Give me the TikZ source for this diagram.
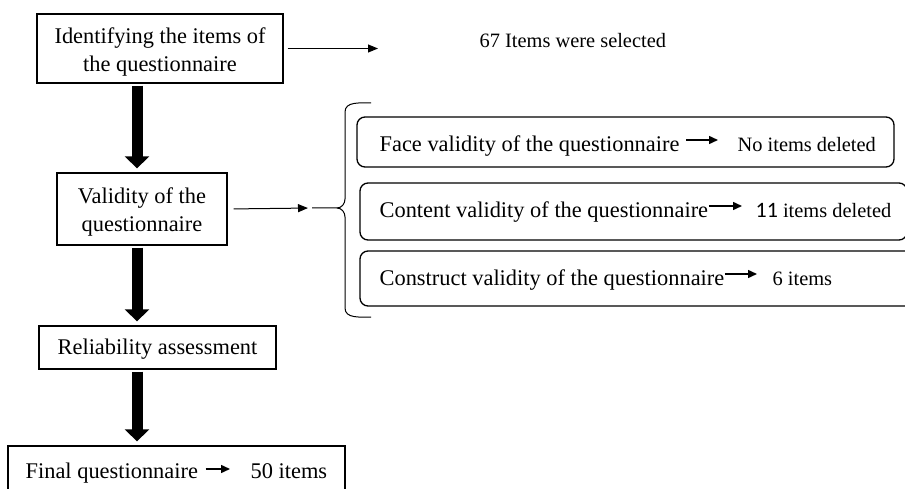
\documentclass[tikz,border=0pt]{standalone}
\usepackage{fontspec}
\setmainfont{Liberation Serif}
\newfontfamily\calfont{Carlito}
\usetikzlibrary{arrows.meta}

\begin{document}
\begin{tikzpicture}[x=1pt, y=-1pt, line width=1.3pt,
    box/.style={draw, inner sep=0pt},
    boxtxt/.style={align=center, inner sep=0pt, font=\fontsize{22.4}{28}\selectfont},
    roundbox/.style={draw, rounded corners=8pt, inner sep=0pt},
    txt/.style={anchor=base west, inner sep=0pt, font=\fontsize{22.4}{28}\selectfont},
    res/.style={anchor=base west, inner sep=0pt, font=\fontsize{20.4}{24}\selectfont},
    bigarrow/.style={line width=11pt, -{Triangle[width=24pt, length=12pt]}, shorten <=2pt, shorten >=4pt},
    thinarrow/.style={line width=1pt, -{Triangle[width=8pt, length=10pt]}},
    smallarrow/.style={line width=1.5pt, -{Triangle[width=8pt, length=9pt]}}]
    \useasboundingbox (0,0) rectangle (905,489);
    \node[box, minimum width=246pt, minimum height=69pt] (items) at (160,48.5) {};
    \node[boxtxt] (itemstxt) at ([yshift=-4pt]items.center) {Identifying the items of\\the questionnaire};
    \node[box, minimum width=170pt, minimum height=72pt] (validity) at (142,209) {};
    \node[boxtxt] (validitytxt) at ([yshift=-3pt]validity.center) {Validity of the\\questionnaire};
    \node[box, minimum width=237pt, minimum height=43pt] (reliab) at (157.5,347.5) {};
    \node[boxtxt] (reliabtxt) at ([yshift=-2pt]reliab.center) {Reliability assessment};
    \node[box, minimum width=337pt, minimum height=50pt] (final) at (176.5,471) {};
    \node[txt] (finaltxt) at (25,478) {Final questionnaire};
    \node[txt] (finalres) at (250,478) {50 items};
    \draw[smallarrow, shorten <=7pt, shorten >=20pt] ([yshift=9pt]finaltxt.base east) -- ([yshift=9pt]finalres.base west);

    \coordinate (spine) at (137,0);
    \draw[bigarrow] (items.south -| spine) -- (validity.north -| spine);
    \draw[bigarrow] (validity.south -| spine) -- (reliab.north -| spine);
    \draw[bigarrow] (reliab.south -| spine) -- (final.north -| spine);

    \coordinate (sel) at (378,48.5);
    \draw[thinarrow, shorten <=4pt] (items.east) -- (sel);
    \node[res] (selected) at (479,48) {67 Items were selected};

    \coordinate (bracetip) at (312,208);
    \draw[thinarrow, shorten <=6pt, shorten >=4pt] (validity.east) -- (bracetip);
    \draw[line width=1pt] (bracetip) -- (337,208) to[out=0, in=90] (345,217) -- (345,308) to[out=-90, in=180] (371,317);
    \draw[line width=1pt] (337,208) to[out=0, in=-90] (345,199) -- (345,112) to[out=90, in=180] (371,103);

    \node[roundbox, minimum width=537pt, minimum height=50pt] (face) at (625.5,142) {};
    \node[roundbox, minimum width=547pt, minimum height=57pt] (content) at (633.5,211.5) {};
    \node[roundbox, minimum width=555pt, minimum height=55pt] (construct) at (637.5,278.5) {};
    \node[txt] (facetxt) at (379,152) {Face validity of the questionnaire};
    \node[res] (faceres) at (737,152) {No items deleted};
    \draw[smallarrow, shorten <=6pt, shorten >=19pt] ([yshift=12pt]facetxt.base east) -- ([yshift=12pt]faceres.base west);
    \node[txt] (contenttxt) at (379,218) {Content validity of the questionnaire};
    \node[res] (contentres) at (755,218) {{\calfont\fontsize{22}{24}\selectfont 11} items deleted};
    \draw[smallarrow, shorten >=13pt] ([yshift=12pt]contenttxt.base east) -- ([yshift=12pt]contentres.base west);
    \node[txt] (constructtxt) at (379,285) {Construct validity of the questionnaire};
    \node[res] (constructres) at (772,285) {6 items};
    \draw[smallarrow, shorten >=15pt] ([yshift=11pt]constructtxt.base east) -- ([yshift=11pt]constructres.base west);
\end{tikzpicture}
\end{document}
